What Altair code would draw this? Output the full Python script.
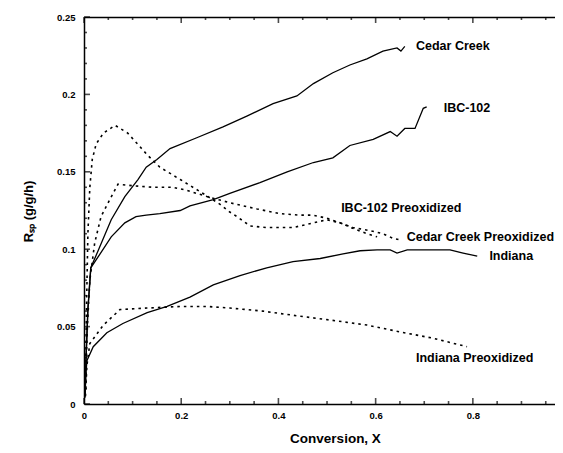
import altair as alt
import pandas as pd

cc_x = [0.002, 0.004, 0.008, 0.014, 0.029, 0.056, 0.084, 0.111, 0.128, 0.15, 0.177, 0.232, 0.286, 0.335, 0.389, 0.438, 0.472, 0.512, 0.547, 0.582, 0.615, 0.644, 0.652, 0.66]
cc_y = [0.005, 0.028, 0.061, 0.088, 0.099, 0.119, 0.134, 0.145, 0.153, 0.158, 0.165, 0.172, 0.179, 0.186, 0.194, 0.199, 0.207, 0.214, 0.219, 0.223, 0.228, 0.230, 0.228, 0.231]

ibc_x = [0.002, 0.004, 0.008, 0.014, 0.029, 0.056, 0.084, 0.107, 0.128, 0.156, 0.198, 0.218, 0.266, 0.30, 0.362, 0.418, 0.472, 0.512, 0.547, 0.595, 0.63, 0.644, 0.66, 0.681, 0.698, 0.705]
ibc_y = [0.005, 0.028, 0.061, 0.088, 0.095, 0.108, 0.117, 0.121, 0.122, 0.123, 0.125, 0.128, 0.132, 0.136, 0.143, 0.150, 0.156, 0.159, 0.167, 0.171, 0.176, 0.173, 0.178, 0.178, 0.191, 0.192]

ind_x = [0.002, 0.004, 0.006, 0.019, 0.047, 0.08, 0.13, 0.171, 0.218, 0.266, 0.321, 0.376, 0.43, 0.486, 0.533, 0.568, 0.603, 0.63, 0.644, 0.665, 0.70, 0.753, 0.78, 0.809]
ind_y = [0.004, 0.02, 0.028, 0.037, 0.046, 0.052, 0.059, 0.063, 0.069, 0.077, 0.083, 0.088, 0.092, 0.094, 0.097, 0.099, 0.0995, 0.0995, 0.0975, 0.0995, 0.0995, 0.0995, 0.0975, 0.0955]

ccp_x = [0.003, 0.005, 0.008, 0.012, 0.017, 0.025, 0.04, 0.064, 0.09, 0.11, 0.13, 0.156, 0.198, 0.245, 0.28, 0.30, 0.315, 0.342, 0.376, 0.43, 0.472, 0.50, 0.527, 0.553, 0.588, 0.615, 0.636, 0.65]
ccp_y = [0.01, 0.06, 0.11, 0.14, 0.158, 0.168, 0.175, 0.180, 0.175, 0.168, 0.161, 0.153, 0.145, 0.136, 0.129, 0.124, 0.121, 0.115, 0.114, 0.114, 0.117, 0.119, 0.117, 0.114, 0.112, 0.110, 0.107, 0.106]

ibcp_x = [0.003, 0.007, 0.012, 0.022, 0.035, 0.053, 0.07, 0.1, 0.142, 0.183, 0.212, 0.253, 0.30, 0.356, 0.403, 0.444, 0.471, 0.50, 0.527, 0.553, 0.582, 0.603]
ibcp_y = [0.01, 0.05, 0.08, 0.104, 0.121, 0.132, 0.142, 0.141, 0.140, 0.140, 0.138, 0.134, 0.130, 0.126, 0.123, 0.122, 0.122, 0.120, 0.117, 0.1135, 0.110, 0.108]

indp_x = [0.003, 0.006, 0.012, 0.04, 0.074, 0.13, 0.198, 0.253, 0.30, 0.368, 0.438, 0.512, 0.582, 0.65, 0.718, 0.788]
indp_y = [0.005, 0.025, 0.039, 0.051, 0.061, 0.062, 0.063, 0.063, 0.062, 0.060, 0.057, 0.054, 0.051, 0.0466, 0.0425, 0.037]

label_text = ["Cedar Creek", "IBC-102", "IBC-102 Preoxidized", "Cedar Creek Preoxidized", "Indiana", "Indiana Preoxidized"]
label_x = [0.683, 0.740, 0.529, 0.664, 0.834, 0.683]
label_y = [0.231, 0.191, 0.1265, 0.108, 0.0955, 0.0297]

x_major = [0, 0.2, 0.4, 0.6, 0.8]
x_minor = [0.05, 0.1, 0.15, 0.25, 0.3, 0.35, 0.45, 0.5, 0.55, 0.65, 0.7, 0.75, 0.85, 0.9, 0.95]
y_major = [0, 0.05, 0.1, 0.15, 0.2, 0.25]
y_minor = [0.01, 0.02, 0.03, 0.04, 0.06, 0.07, 0.08, 0.09, 0.11, 0.12, 0.13, 0.14,
           0.16, 0.17, 0.18, 0.19, 0.21, 0.22, 0.23, 0.24]

W, H = 471, 387
MAJ, MIN = 6, 3

def frame(name, xs, ys):
    return pd.DataFrame({"series": name, "x": xs, "y": ys, "i": range(len(xs))})

solid = pd.concat([frame("Cedar Creek", cc_x, cc_y),
                   frame("IBC-102", ibc_x, ibc_y),
                   frame("Indiana", ind_x, ind_y)])
dashed = pd.concat([frame("Cedar Creek Preoxidized", ccp_x, ccp_y),
                    frame("IBC-102 Preoxidized", ibcp_x, ibcp_y),
                    frame("Indiana Preoxidized", indp_x, indp_y)])
labels = pd.DataFrame({"text": label_text, "x": label_x, "y": label_y})

xs = alt.Scale(domain=[0, 0.969], nice=False, zero=False)
ys = alt.Scale(domain=[0, 0.25], nice=False, zero=False)

FONT = "Liberation Sans"
DOM = dict(domain=True, domainColor="black", domainWidth=1.5, grid=False, ticks=False, tickSize=0)

x_axis = alt.Axis(values=x_major, format="~g", orient="bottom",
                  labelFont=FONT, labelFontSize=9.5, labelFontWeight="bold",
                  labelColor="black", labelPadding=6, labelFlush=False,
                  title="Conversion, X", titleFont=FONT, titleFontSize=13.5,
                  titleFontWeight="bold", titleColor="black", titleX=251, titleY=27,
                  titleBaseline="top", titleAnchor="middle", **DOM)
y_axis = alt.Axis(values=y_major, format="~g", orient="left",
                  labelFont=FONT, labelFontSize=9.5, labelFontWeight="bold",
                  labelColor="black", labelPadding=9, labelFlush=False,
                  title="Rₛₚ (g/g/h)", titleFont=FONT, titleFontSize=13,
                  titleFontWeight="bold", titleColor="black", titleAngle=-90,
                  titleX=-56, titleY=194, titleAlign="center", titleBaseline="middle", **DOM)
top_axis = alt.Axis(orient="top", labels=False, title=None, **DOM)

solid_layer = alt.Chart(solid).mark_line(color="black", strokeWidth=1.3).encode(
    x=alt.X("x:Q", scale=xs, axis=x_axis),
    y=alt.Y("y:Q", scale=ys, axis=y_axis),
    detail="series:N",
    order="i:Q",
)

dash_layer = alt.Chart(dashed).mark_line(color="black", strokeWidth=1.6, strokeDash=[2.5, 4]).encode(
    x=alt.X("x:Q", scale=xs, axis=top_axis),
    y=alt.Y("y:Q", scale=ys, axis=None),
    detail="series:N",
    order="i:Q",
)

text_layer = alt.Chart(labels).mark_text(
    align="left", baseline="middle", font=FONT, fontSize=12.5, fontWeight="bold", color="black"
).encode(
    x=alt.X("x:Q", scale=xs, axis=None),
    y=alt.Y("y:Q", scale=ys, axis=None),
    text="text:N",
)

# inward tick marks, positioned through the scales
def x_ticks(values, length, side):
    pos = H - length / 2 if side == "bottom" else length / 2
    return alt.Chart(pd.DataFrame({"v": values})).mark_tick(
        color="black", thickness=1.6, size=length, orient="vertical"
    ).encode(x=alt.X("v:Q", scale=xs, axis=None), y=alt.value(pos))

def y_ticks(values, length):
    return alt.Chart(pd.DataFrame({"v": values})).mark_tick(
        color="black", thickness=1.6, size=length, orient="horizontal"
    ).encode(y=alt.Y("v:Q", scale=ys, axis=None), x=alt.value(length / 2))

tick_layers = [
    x_ticks(x_major, MAJ, "bottom"), x_ticks(x_minor, MIN, "bottom"),
    x_ticks(x_major, MAJ, "top"), x_ticks(x_minor, MIN, "top"),
    y_ticks(y_major, MAJ), y_ticks(y_minor, MIN),
]

chart = alt.layer(solid_layer, dash_layer, text_layer, *tick_layers).resolve_axis(
    x="independent", y="independent"
).properties(
    width=W, height=H,
    autosize=alt.AutoSizeParams(type="none"),
    padding={"left": 76, "top": 9, "right": 0, "bottom": 41},
    background="white",
).configure_view(strokeWidth=0)

chart.save("out.html", embed_options={"renderer": "svg", "actions": False})
